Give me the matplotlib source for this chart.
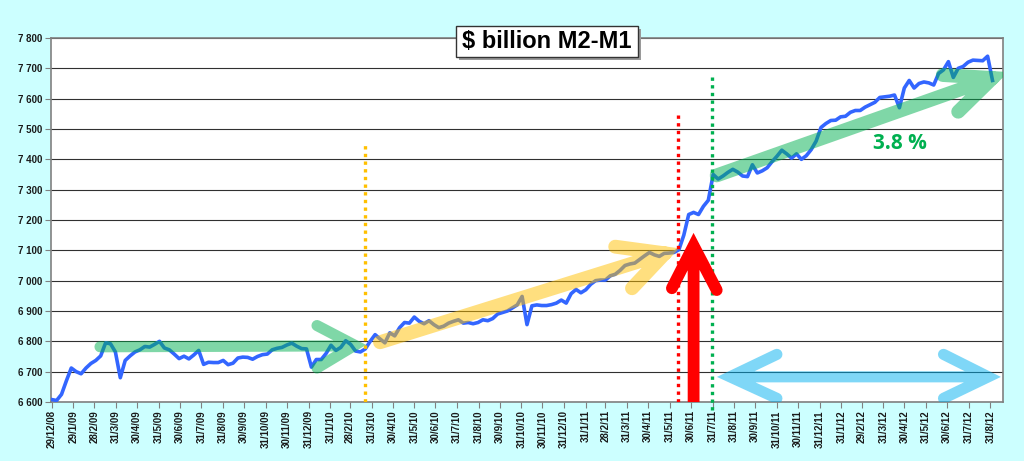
import numpy as np
import pandas as pd
import matplotlib
matplotlib.use('Agg')
import matplotlib.pyplot as plt
import matplotlib.dates as mdates
from matplotlib.path import Path
from matplotlib.patches import PathPatch, Rectangle

plt.rcParams['font.family'] = ['Liberation Sans', 'DejaVu Sans']

# weekly M2-M1, $ billion
start_week = '2008-12-29'
m2_m1 = [
    6608, 6605, 6625, 6670, 6712, 6700, 6693, 6712, 6727, 6737, 6752,
    6795, 6792, 6765, 6680, 6737, 6752, 6765, 6772, 6783, 6781,
    6790, 6800, 6778, 6772, 6758, 6743, 6751, 6742, 6755, 6770,
    6724, 6731, 6730, 6730, 6737, 6723, 6728, 6745, 6748, 6747,
    6741, 6750, 6756, 6758, 6772, 6777, 6780, 6788, 6794, 6784,
    6776, 6775, 6715, 6740, 6740, 6760, 6787, 6770, 6780, 6802,
    6790, 6768, 6765, 6775, 6800, 6822, 6808, 6795, 6828, 6818,
    6845, 6862, 6860, 6880, 6866, 6858, 6868, 6855, 6845, 6850,
    6860, 6866, 6871, 6860, 6862, 6858, 6862, 6871, 6868, 6875,
    6890, 6895, 6900, 6910, 6920, 6948, 6855, 6917, 6920, 6918,
    6918, 6921, 6926, 6936, 6926, 6957, 6971, 6960, 6970, 6988,
    7000, 7002, 7002, 7016, 7021, 7034, 7050, 7055, 7058, 7070,
    7082, 7093, 7085, 7080, 7090, 7091, 7093, 7102, 7150, 7218,
    7225, 7218, 7245, 7265, 7350, 7335, 7345, 7357, 7367, 7358,
    7345, 7343, 7382, 7355, 7362, 7372, 7392, 7410, 7430, 7418,
    7404, 7418, 7400, 7412, 7432, 7460, 7505, 7518, 7528, 7529,
    7540, 7542, 7555, 7561, 7561, 7572, 7580, 7588, 7604, 7606,
    7608, 7612, 7570, 7635, 7660, 7635, 7650, 7655, 7652, 7645,
    7683, 7695, 7722, 7670, 7700, 7706, 7720, 7727, 7726, 7725, 7740, 7660,
]
tick_labels = [
    '29/12/08', '29/1/09', '28/2/09', '31/3/09', '30/4/09', '31/5/09', '30/6/09',
    '31/7/09', '31/8/09', '30/9/09', '31/10/09', '30/11/09', '31/12/09', '31/1/10',
    '28/2/10', '31/3/10', '30/4/10', '31/5/10', '30/6/10', '31/7/10', '31/8/10',
    '30/9/10', '31/10/10', '30/11/10', '31/12/10', '31/1/11', '28/2/11', '31/3/11',
    '30/4/11', '31/5/11', '30/6/11', '31/7/11', '31/8/11', '30/9/11', '31/10/11',
    '30/11/11', '31/12/11', '31/1/12', '29/2/12', '31/3/12', '30/4/12', '31/5/12',
    '30/6/12', '31/7/12', '31/8/12',
]
y_ticks = list(range(6600, 7801, 100))

dates = pd.date_range(start_week, periods=len(m2_m1), freq='7D')
tick_dates = pd.to_datetime(tick_labels, format='%d/%m/%y')

def dn(s):
    return mdates.date2num(pd.Timestamp(s))

def arrow(ax, shaft, heads, color, lw, alpha, z):
    # one path so the transparent strokes do not pile up
    verts, codes = [], []
    for pts in [shaft] + heads:
        for k, (d, v) in enumerate(pts):
            verts.append((dn(d), v))
            codes.append(Path.MOVETO if k == 0 else Path.LINETO)
    p = PathPatch(Path(verts, codes), fill=False, ec=color, lw=lw, alpha=alpha,
                  capstyle='round', joinstyle='miter', zorder=z)
    ax.add_patch(p)

fig = plt.figure(figsize=(10.24, 4.61), dpi=100, facecolor='#CCFFFF')
ax = fig.add_axes([0.0498, 0.128, 0.9297, 0.7896])

ax.plot(dates, m2_m1, color='#3366FF', lw=2.6, zorder=3, solid_joinstyle='round')

# trend arrows
arrow(ax, [('2009-03-08', 6782), ('2010-03-05', 6785)],
      [[('2010-01-12', 6852), ('2010-03-07', 6787), ('2010-01-12', 6712)]],
      '#00B050', 8, 0.5, 4)
arrow(ax, [('2010-04-12', 6797), ('2011-05-24', 7090)],
      [[('2011-03-14', 7112), ('2011-05-24', 7090), ('2011-04-07', 6975)]],
      '#FFC000', 10, 0.5, 4)
arrow(ax, [('2011-08-06', 7347), ('2012-09-03', 7668)],
      [[('2012-06-24', 7678), ('2012-09-03', 7668), ('2012-07-16', 7557)]],
      '#00B050', 10, 0.5, 4)
arrow(ax, [('2011-08-29', 6683), ('2012-08-24', 6683)],
      [[('2011-10-31', 6757), ('2011-08-25', 6683), ('2011-10-31', 6612)],
       [('2012-06-25', 6757), ('2012-08-28', 6683), ('2012-06-25', 6612)]],
      '#00B0F0', 8, 0.5, 4)
arrow(ax, [('2011-07-04', 6560), ('2011-07-04', 7110)],
      [[('2011-06-03', 6975), ('2011-07-04', 7115), ('2011-08-06', 6969)]],
      '#FF0000', 8.5, 1.0, 6)

# dotted markers
dot = (0, (1, 1.3))
ax.plot([pd.Timestamp('2010-03-22')] * 2, [6600, 7450], color='#FFC000', lw=2.4,
        ls=dot, zorder=5)
ax.plot([pd.Timestamp('2011-06-12')] * 2, [6600, 7553], color='#FF0000', lw=2.4,
        ls=dot, zorder=5)
ax.plot([pd.Timestamp('2011-07-30')] * 2, [6575, 7670], color='#00B050', lw=2.4,
        ls=dot, zorder=5, clip_on=False)

ax.text(pd.Timestamp('2012-04-24'), 7452, '3.8 %', color='#00B050', fontsize=15,
        fontweight='bold', family='Open Sans', ha='center', va='center', zorder=7)

ax.set_ylim(6600, 7800)
ax.set_xlim(dn('2008-12-29') - 1, dn('2012-09-18'))
ax.set_yticks(y_ticks)
ax.set_yticklabels([f'{v:,}'.replace(',', ' ') for v in y_ticks])
ax.set_xticks(tick_dates)
ax.set_xticklabels(tick_labels, rotation=90)
ax.grid(axis='y', color='#303030', lw=0.8)
ax.set_axisbelow(True)
for lab in ax.get_xticklabels() + ax.get_yticklabels():
    lab.set_fontweight('bold')
ax.tick_params(axis='both', direction='out', length=4, color='#808080',
               labelsize=7, labelcolor='#1a1a1a', pad=2)
for s in ax.spines.values():
    s.set_color('#808080')
    s.set_linewidth(1.2)

# title box with a little shadow
W, H = 1024, 461
fig.add_artist(Rectangle((459 / W, 1 - 60 / H), 182 / W, 31 / H, transform=fig.transFigure,
                         fc='#9a9a9a', ec='none', zorder=8))
fig.add_artist(Rectangle((456 / W, 1 - 57 / H), 182 / W, 31 / H, transform=fig.transFigure,
                         fc='white', ec='#333333', lw=1, zorder=9))
fig.text(547 / W, 1 - 42 / H, r'\$ billion M2-M1', ha='center', va='center',
         fontsize=17, fontweight='bold', color='black', zorder=10)

fig.savefig('out.png', dpi=100, facecolor=fig.get_facecolor())
